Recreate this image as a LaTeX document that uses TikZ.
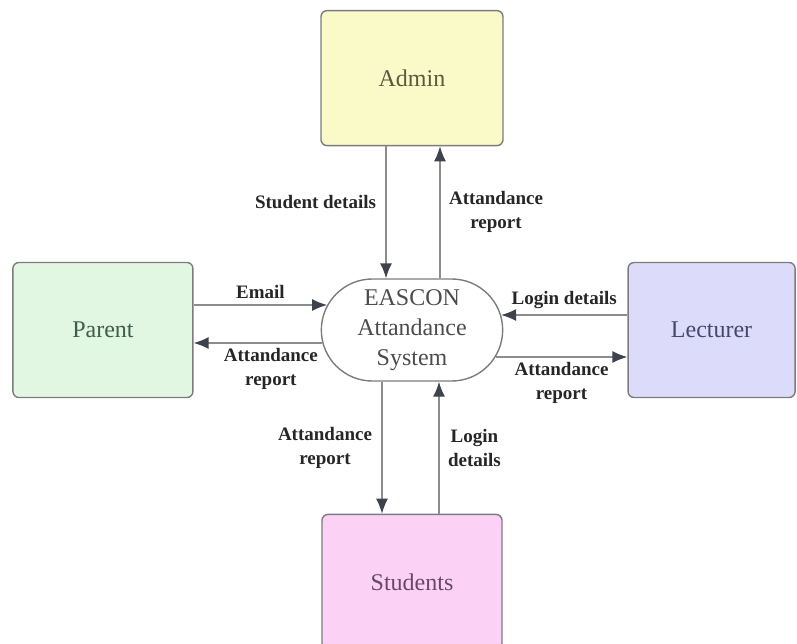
\documentclass[tikz,border=0pt]{standalone}
\usepackage{fontspec}
\setmainfont{Liberation Serif}
\usetikzlibrary{arrows.meta}
\usetikzlibrary{shapes.misc}
\usetikzlibrary{positioning}

\definecolor{adminfill}{HTML}{FAF9C8}
\definecolor{parentfill}{HTML}{E2F7E2}
\definecolor{lectfill}{HTML}{DCDCFA}
\definecolor{studfill}{HTML}{FBD2F5}
\definecolor{admintext}{HTML}{5A5A3C}
\definecolor{parenttext}{HTML}{3F5C4C}
\definecolor{lecttext}{HTML}{45466C}
\definecolor{studtext}{HTML}{68486A}
\definecolor{edgegray}{HTML}{7C7C80}
\definecolor{linegray}{HTML}{8C8C90}
\definecolor{tipdark}{HTML}{3E424C}

\begin{document}
\begin{tikzpicture}[x=1pt,y=1pt,line width=1.4pt,
    >={Latex[length=15pt,width=12pt,color=tipdark]},
    entity/.style={draw=edgegray,rounded corners=6pt,minimum width=180pt,
      minimum height=135pt,font=\fontsize{24}{30}\selectfont},
    flow/.style={font=\bfseries\fontsize{19}{24}\selectfont,text=black!85,align=center},
    line/.style={draw=linegray,->}]
      \useasboundingbox (0,0) rectangle (797,-643);
      \clip (0,0) rectangle (797,-643);
      \node (sys) [rounded rectangle,draw=edgegray,minimum width=188pt,minimum height=102pt,
        align=center,text=black!70,font=\fontsize{24}{30}\selectfont] at (412,-330)
        {EASCON\\Attandance\\System};
      \node (admin) [entity,fill=adminfill,text=admintext,minimum width=182pt,above=132pt of sys] {Admin};
      \node (parent) [entity,fill=parentfill,text=parenttext,left=127pt of sys] {Parent};
      \node (lecturer) [entity,fill=lectfill,text=lecttext,minimum width=167pt,right=124pt of sys,anchor=west] {Lecturer};
      \node (students) [entity,fill=studfill,text=studtext,below=132pt of sys] {Students};
      \draw[line] ([xshift=-26pt]admin.south) -- ([xshift=-26pt]admin.south |- sys.north)
        node[flow,pos=0.42,left=6pt] {Student details};
      \draw[line] ([xshift=28pt]admin.south |- sys.north) -- ([xshift=28pt]admin.south)
        node[flow,midway,right=5pt] {Attandance\\report};
      \draw[line] ([yshift=25pt]parent.east) -- ([yshift=25pt,xshift=6.5pt]sys.west)
        node[flow,midway,above=2pt] {Email};
      \draw[line] ([yshift=-13pt,xshift=1.7pt]sys.west) -- ([yshift=-13pt]parent.east)
        node[flow,pos=0.4,below=1pt] {Attandance\\report};
      \draw[line] ([yshift=15pt]lecturer.west) -- ([yshift=15pt,xshift=-2.3pt]sys.east)
        node[flow,midway,above=2pt] {Login details};
      \draw[line] ([yshift=-27pt,xshift=-7.7pt]sys.east) -- ([yshift=-27pt]lecturer.west)
        node[flow,midway,below=1pt] {Attandance\\report};
      \draw[line] ([xshift=-30pt]sys.south) -- ([xshift=-30pt]sys.south |- students.north)
        node[flow,midway,left=6pt] {Attandance\\report};
      \draw[line] ([xshift=27pt]sys.south |- students.north) -- ([xshift=27pt]sys.south)
        node[flow,midway,right=5pt] {Login\\details};
    \end{tikzpicture}
\end{document}
